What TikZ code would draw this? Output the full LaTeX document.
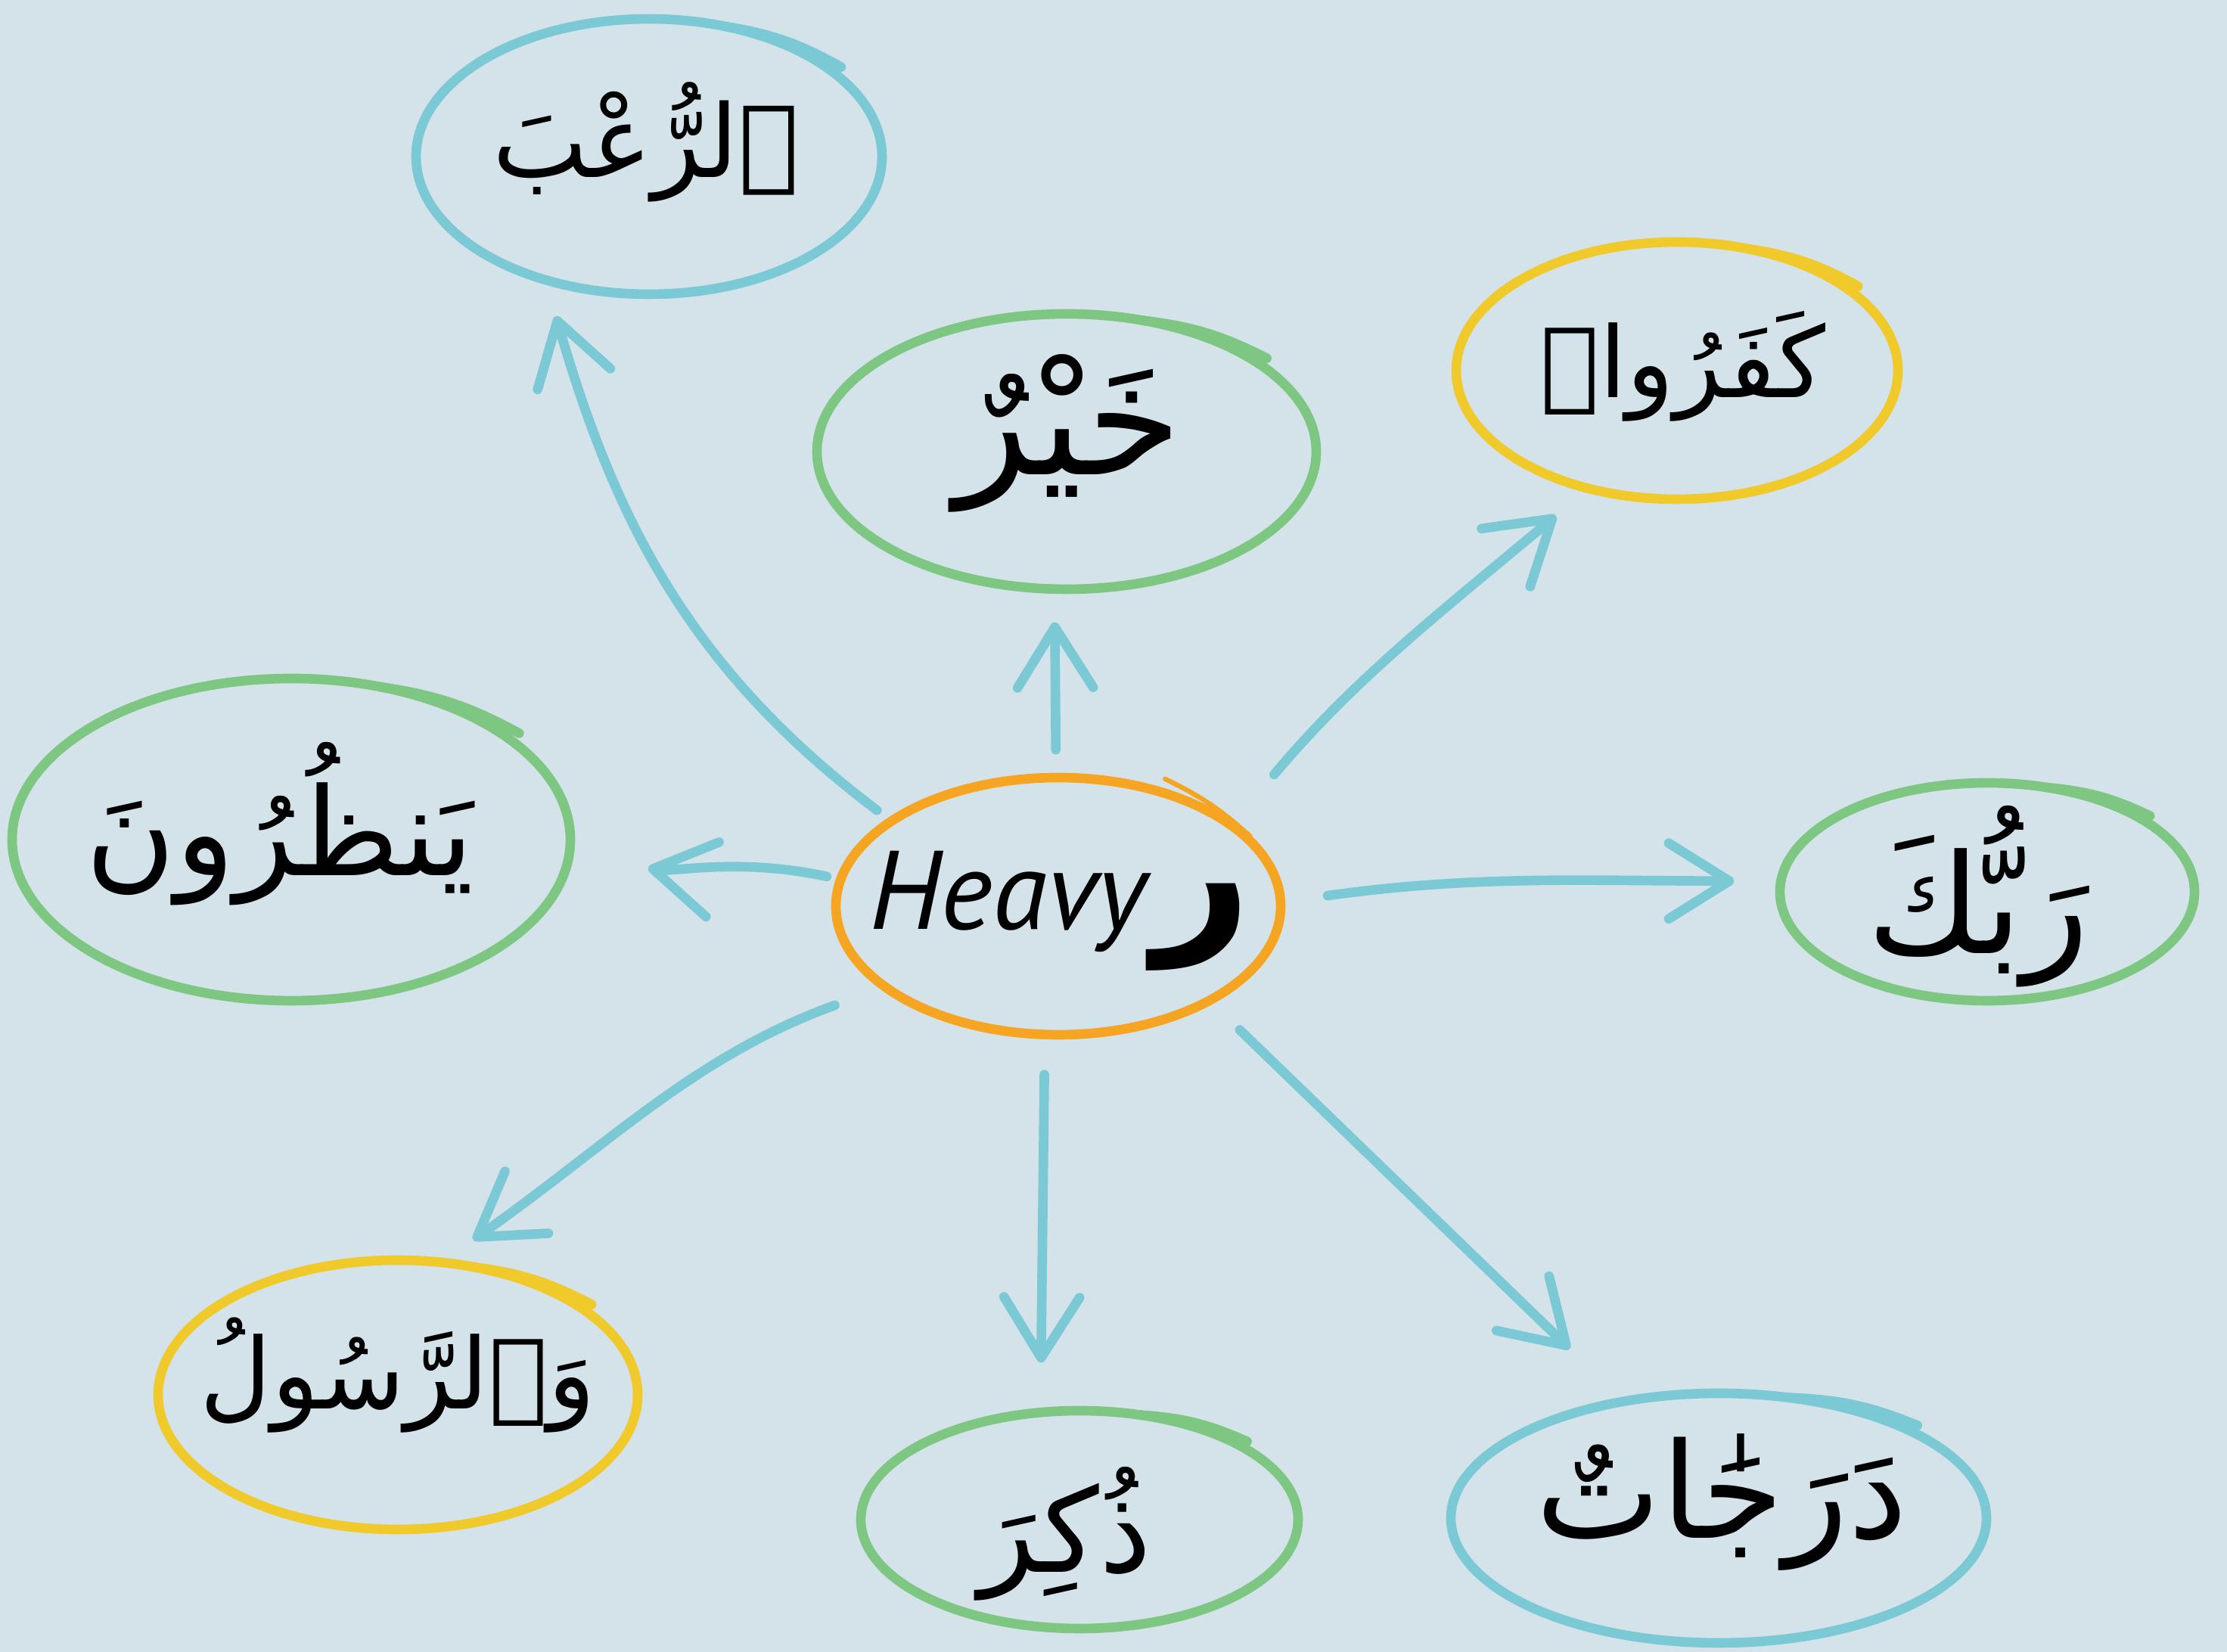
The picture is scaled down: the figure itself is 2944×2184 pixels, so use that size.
\documentclass[tikz,border=0pt]{standalone}
\usepackage{fontspec}
\usetikzlibrary{arrows.meta,calc,shapes.geometric}
\setmainfont{PT Sans}
\newfontfamily\arabicfont[Script=Arabic]{DejaVu Sans}
\TeXXeTstate=1
\definecolor{bgblue}{HTML}{D4E3EA}
\definecolor{linkcyan}{HTML}{7BC9D5}
\definecolor{wordgreen}{HTML}{7DC782}
\definecolor{wordyellow}{HTML}{F0C92A}
\definecolor{rootorange}{HTML}{F6A522}
\newcommand{\arword}[1]{{\arabicfont\beginR #1\endR}}
\begin{document}
\begin{tikzpicture}[
    x=0.1mm, y=0.1mm,
    word/.style={ellipse, draw=#1, line width=3.6pt, inner sep=0pt, outer sep=0pt},
    wordtext/.style={inner sep=0pt, font=\fontsize{#1}{#1}\selectfont},
    root/.style={ellipse, draw=rootorange, line width=3.6pt, inner sep=0pt, outer sep=0pt},
    link/.style={draw=linkcyan, line width=3.6pt, line cap=round, -{Straight Barb[length=8mm, width=10mm, round]}},
    tail/.style={draw=#1, line width=3.6pt, line cap=round},
]
\fill[bgblue] (0,0) rectangle (2944,2184);
% rings
\node[root, minimum width=58.8mm, minimum height=34mm] (c) at (1399,986) {};
\node[word=linkcyan, minimum width=61.6mm, minimum height=36.4mm] (ruab) at (858,1977) {};
\node[word=wordgreen, minimum width=66mm, minimum height=36.4mm] (khayr) at (1410,1587) {};
\node[word=wordyellow, minimum width=58.4mm, minimum height=34mm] (kafaru) at (2217,1694) {};
\node[word=wordgreen, minimum width=73.8mm, minimum height=42.6mm] (yanzuru) at (385,1074) {};
\node[word=wordgreen, minimum width=54.8mm, minimum height=28.8mm] (rabbuk) at (2627,1005) {};
\node[word=wordyellow, minimum width=63.4mm, minimum height=35.6mm] (rasul) at (526,340) {};
\node[word=wordgreen, minimum width=57.8mm, minimum height=28.8mm] (dhukir) at (1427,175) {};
\node[word=linkcyan, minimum width=70.8mm, minimum height=33mm] (darajat) at (2272,177) {};
% words
\node[inner sep=0pt] (ctxt) at (1402,980)
    {{\fontsize{42}{48}\selectfont\itshape Heavy}\hspace{1mm}{\arabicfont\bfseries\fontsize{64}{66}\selectfont\beginR ر\endR}};
\node[wordtext=38] (ruabtxt) at (854,1996) {\arword{ٱلرُّعْبَ}};
\node[wordtext=58] (khayrtxt) at (1412,1611) {\arword{خَيْرٌ}};
\node[wordtext=37] (kafarutxt) at (2225,1700) {\arword{كَفَرُوا۟}};
\node[wordtext=46] (yanzurutxt) at (370,1095) {\arword{يَنظُرُونَ}};
\node[wordtext=52] (rabbuktxt) at (2615,999) {\arword{رَبُّكَ}};
\node[wordtext=37] (rasultxt) at (526,366) {\arword{وَٱلرَّسُولُ}};
\node[wordtext=44] (dhukirtxt) at (1408,156) {\arword{ذُكِرَ}};
\node[wordtext=50] (darajattxt) at (2276,198) {\arword{دَرَجَٰاتٌ}};
% pen overlaps
\foreach \n/\col in {ruab/linkcyan, khayr/wordgreen, kafaru/wordyellow, yanzuru/wordgreen, rabbuk/wordgreen, rasul/wordyellow, dhukir/wordgreen, darajat/linkcyan}
    \draw[tail=\col] ($(\n.center)!1.05!(\n.25)$) to[bend right=10] ($(\n.center)!1!(\n.60)$);
\draw[rootorange, line width=1.8pt, line cap=round] ($(c.center)!1.1!(c.50)$) to[bend left=8] ($(c.center)!1.02!(c.20)$);
% links
\draw[link, shorten <=2.4mm, shorten >=5mm] (c.153) to[out=143, in=286] (ruab.230);
\draw[link, shorten <=3.7mm, shorten >=4.4mm] (c.91) -- (khayr.265);
\draw[link, shorten <=8.8mm, shorten >=5.6mm] (c.25) to[out=50, in=220] (kafaru.233);
\draw[link, shorten <=1.9mm, shorten >=10.6mm] (c.173) to[out=168, in=-10] (yanzuru.357);
\draw[link, shorten <=6.3mm, shorten >=6.2mm] (c.1) to[out=8, in=180] (rabbuk.177);
\draw[link, shorten <=7.1mm, shorten >=5.2mm] (c.205) to[out=200, in=35] (rasul.72);
\draw[link, shorten <=5.3mm, shorten >=6.6mm] (c.264) -- (dhukir.110);
\draw[link, shorten <=5.6mm, shorten >=10mm] (c.328) -- (darajat.129);
\end{tikzpicture}
\end{document}
